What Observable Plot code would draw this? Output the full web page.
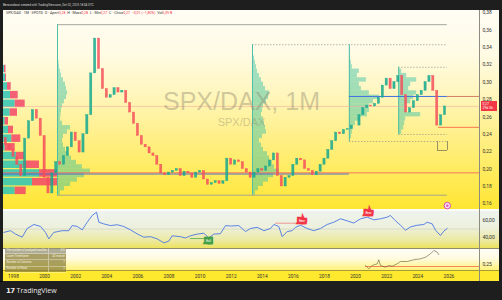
<!DOCTYPE html>
<html><head><meta charset="utf-8">
<script src="https://cdn.jsdelivr.net/npm/d3@7"></script>
<script src="https://cdn.jsdelivr.net/npm/@observablehq/plot@0.6"></script>
<style>
html,body{margin:0;padding:0;background:#1e1e1e;}
#root{position:relative;width:502px;height:300px;overflow:hidden;background:#1e1e1e;font-family:Roboto,"DejaVu Sans",sans-serif;}
.abs{position:absolute;}
.plot{position:absolute;left:0;}
#legend{left:6px;top:11px;font-size:3.6px;line-height:4px;color:#333;white-space:nowrap;}
#legend .r{color:#f23645;}
#topbar{left:3px;top:3px;font-size:3px;line-height:4px;color:#d8d8d8;white-space:nowrap;}
#logo{left:6px;top:286px;font-size:7px;line-height:9px;color:#e8e8e8;white-space:nowrap;font-family:"Open Sans",Roboto,sans-serif;}
#badge{left:481px;width:16px;height:10px;background:#f23645;color:#fff;font-size:3.4px;line-height:4.2px;text-align:left;padding-left:1.5px;box-sizing:border-box;padding-top:0.8px;}
table{border-collapse:collapse;}
#tbl{left:5px;top:248px;width:68px;font-size:2.8px;line-height:3.4px;color:#f4f1dc;}
#tbl td{height:5.2px;padding:0 1.5px;background:rgba(140,128,60,0.75);border-bottom:0.5px solid rgba(255,255,255,0.35);}
#tbl tr:first-child td{background:rgba(150,145,120,0.75);}
#tbl td.v{text-align:right;width:14px;border-left:0.5px solid rgba(255,255,255,0.4);}
</style></head><body><div id="root"></div>
<script>
// ---------------- DATA ----------------
// Quarterly closes of SPX/DAX, first quarter 1997 Q2
const firstQuarter = 1997.25;
const closes = [
0.236,0.228,0.222,
0.214,0.205,0.192,0.235,
0.255,0.268,0.258,0.238,
0.190,0.172,0.195,0.208,
0.205,0.215,0.225,0.242,
0.232,0.219,0.240,0.262,
0.310,0.350,0.315,0.292,
0.282,0.285,0.293,0.288,
0.290,0.276,0.265,0.252,
0.238,0.228,0.225,0.218,
0.215,0.205,0.195,0.193,
0.196,0.198,0.200,0.192,
0.197,0.195,0.190,0.196,
0.198,0.188,0.182,0.184,
0.186,0.183,0.186,0.212,
0.205,0.210,0.208,0.200,
0.196,0.190,0.196,0.200,
0.198,0.203,0.210,0.218,
0.192,0.180,0.190,0.192,
0.205,0.212,0.210,0.200,
0.198,0.193,0.197,0.205,
0.212,0.222,0.232,0.242,
0.240,0.245,0.246,0.250,
0.250,0.262,0.270,0.273,
0.272,0.275,0.282,0.296,
0.304,0.292,0.300,0.307,
0.285,0.265,0.270,0.278,
0.285,0.290,0.300,0.307,
0.290,0.250,0.262,0.272];
const firstOpen = 0.240;

// Visible-range volume profile (left): bin bottoms, up and down volume
const leftBins = [0.17,0.18,0.19,0.20,0.21,0.22,0.23,0.24,0.25,0.26,0.27,0.28,0.29,0.30,0.31];
const leftUp   = [11.7,29,36,20,13,1.7,8.3,5,1.7,6.7,11.7,7,4,2,1];
const leftDown = [11,26,19,16,8,10,9,5,3.3,7.3,10,7.7,3.7,1,1.5];

// Fixed-range profiles: start date, first bin, bin volumes (bin = 0.005)
const prof1Start = 2000.83, prof1Bin0 = 0.170;
const prof1Vol = [3,7,13,20,27,33,25,19,14,11,8,6,5,6,10,13,5,3,3.5,4,5,7,9,10,9,8,6,4,3,2,1.5,1,0.7,0.4];
const prof2Start = 2013.37, prof2Bin0 = 0.170;
const prof2Vol = [3,6,11,16,21,27,22,20,17,15,11,9,7,10,14,13,12,11,9,10,11,14,16,17,13,11,9,7,5,4,3,2,1,0.5];
const prof3Start = 2019.60, prof3Bin0 = 0.235;
const prof3Vol = [2,3,4,6,11,18,20,20,24,30,20,12,10,17,8,10,3,2,1,0.5,0.3];
const prof4Start = 2022.77, prof4Bin0 = 0.240;
const prof4Vol = [3,5,6,7,22,8,8,12,15,18,10,12,18,8,3];
const binStep = 0.005;

// Range boxes: [start, low, high]
const boxEnd = 2025.9;
const box1 = [2000.83, 0.170, 0.366];
const box2 = [2013.37, 0.170, 0.343];
const box3 = [2019.60, 0.2317, 0.343];
const box4 = [2022.77, 0.2398, 0.317];
const pocAll = 0.195, poc3 = 0.2835, supportLine = 0.248, supportStart = 2025.33;
const bracket = [2025.27, 2025.91, 0.2214, 0.2317];

// RSI (date, value)
const rsiT = [1997.38,1997.81,1998.13,1998.56,1998.88,1999.31,1999.74,2000.06,2000.27,2000.59,2001.13,2001.56,2001.77,2002.1,2002.42,2002.74,2003.06,2003.34,2003.49,2003.81,2004.24,2004.67,2005.09,2005.52,2005.95,2006.38,2006.81,2007.24,2007.67,2007.99,2008.2,2008.74,2009.06,2009.38,2009.81,2010.24,2010.56,2010.88,2011.31,2011.63,2011.95,2012.49,2012.92,2013.24,2013.67,2014.1,2014.53,2014.74,2015.06,2015.28,2015.6,2015.92,2016.13,2016.46,2016.89,2017.31,2017.74,2018.17,2018.6,2019.03,2019.46,2019.88,2020.32,2020.75,2021.17,2021.6,2022.03,2022.24,2022.57,2022.89,2023.21,2023.53,2023.96,2024.39,2024.6,2024.93,2025.14,2025.46,2025.67,2025.89];
const rsiV = [46,48,44,40.4,50.6,55.3,53,46,38.4,46,48,48,54,53,49,58,65.9,69.8,58,56,54,55,53,49,44.3,40.4,41,38.4,33.7,35.7,42,41,39.4,42,44,45,39.4,44,44.5,54,53.5,54,47,50.6,52,48,50.6,55.3,53,41,47,48,52,54.4,50.6,48,50.6,55.3,58,62,59.6,57,62,63.9,60.8,62,63.9,65.9,59.6,54.4,48.6,52.5,54.4,55.3,58,56,48.6,42.4,47.4,50.6];
const bullLabels = [{t:2010.54, v:35.3, text:"Bull"}];
const bullLine = {t1:2009.38, t2:2010.54, v:38.8};
const bearLabels = [{t:2016.55, v:59.4, text:"Bear"},{t:2020.83, v:68.2, text:"Bear"}];
const bearLine = {t1:2014.85, t2:2016.2, v:56.8};

// Lower indicator
const lowT = [2020.64,2020.85,2021.07,2021.39,2021.49,2021.6,2021.92,2022.13,2022.35,2022.67,2022.89,2023.32,2023.74,2024.17,2024.5,2024.82,2025.03,2025.25,2025.35];
const lowV = [0.2467,0.2357,0.2467,0.2523,0.2657,0.2467,0.241,0.2467,0.2443,0.2523,0.26,0.26,0.2657,0.269,0.2743,0.2857,0.2967,0.291,0.283];
const lowRef = 0.2433;

// Ticks
const priceTicks = [0.16,0.18,0.20,0.22,0.24,0.26,0.28,0.30,0.32,0.34,0.36,0.38];
const rsiTicks = [40,60];
const lowTicks = [0.25];
const yearTicks = [1998,2000,2002,2004,2006,2008,2010,2012,2014,2016,2018,2020,2022,2024,2026];

// ---------------- BUILD ----------------
const X0 = 1997.357, X1 = 2027.968;
const pxYears = (X1 - X0) / 476; // one profile volume unit
const comma = (d, n) => d.toFixed(n).replace(".", ",");
const root = document.getElementById("root");

function addDiv(css, html, id) {
  const d = document.createElement("div");
  d.className = "abs"; if (id) d.id = id;
  d.style.cssText = css; if (html) d.innerHTML = html;
  root.appendChild(d); return d;
}
// panel backgrounds
addDiv("left:3px;top:10px;width:496px;height:199px;background:linear-gradient(to bottom,#fffdf5 0%,#fffbe4 22%,#fff6bd 42%,#fff08c 62%,#ffeb5c 82%,#ffe633 100%);");
addDiv("left:3px;top:209px;width:496px;height:2px;background:#fffef6;");
addDiv("left:3px;top:211px;width:496px;height:37px;background:linear-gradient(to bottom,#eef3ee 0%,#edf0dc 45%,#ece9a0 80%,#ede35c 100%);");
addDiv("left:3px;top:248px;width:496px;height:1px;background:#8f8b6c;");
addDiv("left:3px;top:249px;width:496px;height:21px;background:linear-gradient(to bottom,#fffef8 0%,#fffbe0 45%,#fff27a 100%);");
addDiv("left:3px;top:270px;width:496px;height:11px;background:#ffe92e;border-top:1px solid #a89c3a;box-sizing:border-box;");
addDiv("left:479px;top:10px;width:1px;height:271px;background:#8e8c80;");

function mount(svg, top) { svg.classList.add("plot"); svg.style.top = top + "px"; root.appendChild(svg); return svg; }
const baseOpts = (h, ydom) => ({
  width: 502, height: h, marginLeft: 3, marginRight: 23, marginTop: 0, marginBottom: 0,
  x: {domain: [X0, X1], axis: null},
  y: {domain: ydom},
  style: {background: "transparent", overflow: "visible", fontFamily: "Roboto, sans-serif"}
});

// candles
const candles = closes.map((c, i) => ({t: firstQuarter + 0.25 * i, o: i ? closes[i - 1] : firstOpen, c}));
const lastClose = closes[closes.length - 1];
const tealP = "#2fbfa6";
function profileRects(start, bin0, vols) {
  return vols.map((v, i) => ({x1: start, x2: start + v * pxYears, y1: bin0 + i * binStep, y2: bin0 + (i + 1) * binStep}));
}
const left = leftBins.map((b, i) => ({b, up: leftUp[i], dn: leftDown[i]}));
const boxes = [box1, box2, box3, box4];

const main = Plot.plot({
  ...baseOpts(200, [0.1524, 0.3823]),
  marks: [
    // left profile
    Plot.rectX(left, {y1: "b", y2: d => d.b + 0.01, x1: X0, x2: d => X0 + d.up * pxYears, fill: "#2ec4b6", fillOpacity: 0.85, insetTop: 0.6, insetBottom: 0.6}),
    Plot.rectX(left, {y1: "b", y2: d => d.b + 0.01, x1: d => X0 + d.up * pxYears, x2: d => X0 + (d.up + d.dn) * pxYears, fill: "#f2476a", fillOpacity: 0.85, insetTop: 0.6, insetBottom: 0.6}),
    // fixed range profiles
    Plot.rectX(profileRects(prof1Start, prof1Bin0, prof1Vol), {x1: "x1", x2: "x2", y1: "y1", y2: "y2", fill: tealP, fillOpacity: 0.45}),
    Plot.rectX(profileRects(prof2Start, prof2Bin0, prof2Vol), {x1: "x1", x2: "x2", y1: "y1", y2: "y2", fill: tealP, fillOpacity: 0.45}),
    Plot.rectX(profileRects(prof3Start, prof3Bin0, prof3Vol), {x1: "x1", x2: "x2", y1: "y1", y2: "y2", fill: tealP, fillOpacity: 0.45}),
    Plot.rectX(profileRects(prof4Start, prof4Bin0, prof4Vol), {x1: "x1", x2: "x2", y1: "y1", y2: "y2", fill: tealP, fillOpacity: 0.45}),
    // box outlines
    Plot.ruleY([box1], {y: d => d[2], x1: d => d[0], x2: boxEnd, stroke: "#9d9d95", strokeWidth: 0.9}),
    Plot.ruleY([box1], {y: d => d[1], x1: d => d[0], x2: boxEnd, stroke: "#9d9d95", strokeWidth: 0.9}),
    Plot.ruleY([box2, box4], {y: d => d[2], x1: d => d[0], x2: boxEnd, stroke: "#888", strokeWidth: 0.6, strokeDasharray: "1.5,1.5"}),
    Plot.ruleY([box3, box4], {y: d => d[1], x1: d => d[0], x2: boxEnd, stroke: "#888", strokeWidth: 0.6, strokeDasharray: "1.5,1.5"}),
    Plot.ruleX(boxes, {x: d => d[0], y1: d => d[1], y2: d => d[2], stroke: "#4fbfa8", strokeWidth: 1}),
    // current price line
    Plot.ruleY([lastClose], {stroke: "#f5a0a0", strokeWidth: 0.5}),
    // POC lines
    Plot.ruleY([pocAll], {dy: -0.6, x1: X0, x2: X1, stroke: "#f26b5b", strokeWidth: 0.9}),
    Plot.ruleY([pocAll], {dy: 0.6, x1: X0, x2: box3[0], stroke: "#4a62d8", strokeWidth: 0.9}),
    Plot.ruleY([poc3], {x1: box3[0], x2: boxEnd, stroke: "#3f6fe0", strokeWidth: 1}),
    Plot.ruleY([poc3], {x1: boxEnd, x2: X1, stroke: "#c4614e", strokeWidth: 0.8}),
    Plot.ruleY([supportLine], {x1: supportStart, x2: X1, stroke: "#f7794f", strokeWidth: 1}),
    // bracket
    Plot.ruleX([bracket[0], bracket[1]], {y1: bracket[2], y2: bracket[3], stroke: "#8a8660", strokeWidth: 0.9}),
    Plot.ruleY([bracket[2]], {x1: bracket[0], x2: bracket[1], stroke: "#8a8660", strokeWidth: 0.9}),
    // candles
    Plot.rectY(candles, {x1: d => d.t - 0.07, x2: d => d.t + 0.07, y1: "o", y2: "c",
      fill: d => d.c >= d.o ? "#16a88f" : "#f4505c", stroke: d => d.c >= d.o ? "#16a88f" : "#f4505c",
      strokeWidth: 0.4, fillOpacity: 0.85, clip: true}),
    // watermark
    Plot.text(["SPX/DAX, 1M"], {frameAnchor: "middle", dy: -9, fontSize: 25, fill: "#8d8770", fillOpacity: 0.42, fontFamily: "Liberation Sans, Arial, sans-serif"}),
    Plot.text(["SPX/DAX"], {frameAnchor: "middle", dy: 12, fontSize: 11, fill: "#8d8770", fillOpacity: 0.42, fontFamily: "Liberation Sans, Arial, sans-serif"}),
    // event icon
    Plot.dot([{t: boxEnd, v: 0.158}], {x: "t", y: "v", r: 3.2, fill: "#fbe3f4", stroke: "#d64bb0", strokeWidth: 1}),
    Plot.dot([{t: boxEnd, v: 0.158}], {x: "t", y: "v", r: 1.2, fill: "#d64bb0"}),
    // right axis
    Plot.axisY({anchor: "right", ticks: priceTicks, tickFormat: d => comma(d, 2), tickSize: 0, tickPadding: 3, fontSize: 5, fill: "#333", label: null})
  ]
});
mount(main, 10);

const rsiData = rsiT.map((t, i) => ({t, v: rsiV[i]}));
const rsi = Plot.plot({
  ...baseOpts(38, [27.06, 71.76]),
  marks: [
    Plot.ruleY([50], {stroke: "#c9c9b8", strokeWidth: 0.5}),
    Plot.ruleY([bullLine], {y: "v", x1: "t1", x2: "t2", stroke: "#4caf50", strokeWidth: 0.8}),
    Plot.ruleY([bearLine], {y: "v", x1: "t1", x2: "t2", stroke: "#f08080", strokeWidth: 0.8}),
    Plot.line(rsiData, {x: "t", y: "v", stroke: "#4a76e6", strokeWidth: 0.9}),
    Plot.text(bullLabels, {x: "t", y: "v", text: "text", fill: "#fff", stroke: "#43a047", strokeWidth: 4.5, strokeLinejoin: "miter", fontSize: 3}),
    Plot.text(bearLabels, {x: "t", y: "v", text: "text", fill: "#fff", stroke: "#f23645", strokeWidth: 4.5, strokeLinejoin: "miter", fontSize: 3}),
    Plot.axisY({anchor: "right", ticks: rsiTicks, tickFormat: d => comma(d, 2), tickSize: 0, tickPadding: 3, fontSize: 5, fill: "#333", label: null})
  ]
});
mount(rsi, 210);

const lowData = lowT.map((t, i) => ({t, v: lowV[i]}));
const low = Plot.plot({
  ...baseOpts(21, [0.23, 0.30]),
  marks: [
    Plot.ruleY([lowRef], {x1: lowT[0], x2: X1, stroke: "#f7794f", strokeWidth: 0.9}),
    Plot.line(lowData, {x: "t", y: "v", stroke: "#5f5a3a", strokeWidth: 0.6}),
    Plot.axisY({anchor: "right", ticks: lowTicks, tickFormat: d => comma(d, 2), tickSize: 0, tickPadding: 3, fontSize: 5, fill: "#333", label: null})
  ]
});
mount(low, 249);

const xax = Plot.plot({
  ...baseOpts(11, [0, 1]),
  marks: [
    Plot.text(yearTicks, {x: d => d, text: d => String(d), frameAnchor: "middle", fontSize: 4.8, fill: "#333"})
  ]
});
mount(xax, 270);

// texts
addDiv("", "Bensondaxxi created with TradingView.com, Oct 02, 2025 18:04 UTC", "topbar");
addDiv("", 'SPX/DAX · 1M · SPOTD &nbsp;O · Apert<span class="r">0,28</span> &nbsp;H · Mass<span class="r">0,28</span> &nbsp;L · Min<span class="r">0,27</span> &nbsp;C · Chius<span class="r">0,27</span> &nbsp;<span class="r">−0,01 (−1,80%)</span> &nbsp;Vol<span class="r">5,39 B</span>', "legend");
const by = 10 + main.scale("y").apply(lastClose) - 5;
addDiv("top:" + by + "px;", comma(lastClose, 2) + "<br>29d 3h", "badge");
addDiv("", '<table><tr><td>The number of analyzed candles</td><td class="v">6/6</td></tr><tr><td>Lower Timeframe</td><td class="v">43 minute</td></tr><tr><td>Number of Columns</td><td class="v">7</td></tr><tr><td>Number of Rows</td><td class="v">3</td></tr></table>', "tbl");
addDiv("", '<b style="font-family:DejaVu Sans;letter-spacing:-0.5px">17</b> TradingView', "logo");
</script></body></html>
